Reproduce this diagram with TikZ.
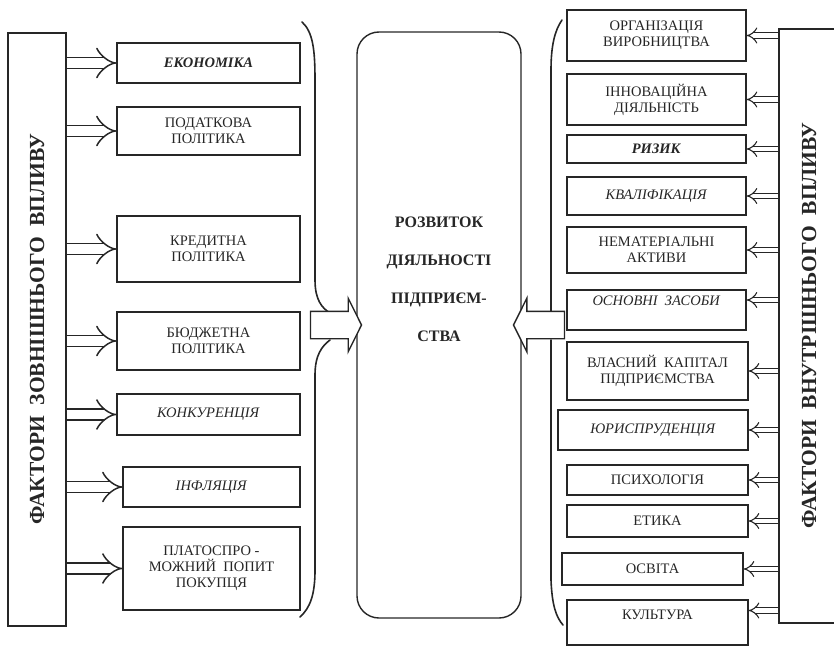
\documentclass[tikz,border=0pt]{standalone}
\usepackage{fontspec}
\setmainfont{Liberation Serif}
\usetikzlibrary{positioning,shapes.arrows,arrows.meta}

\begin{document}
\begin{tikzpicture}[
    x=1pt, y=-1pt,
    color=black!85,
    line width=1.4pt,
    node distance=80pt,
    factor/.style={rectangle, draw, minimum width=183pt, align=center, inner sep=2pt, font=\fontsize{14.5}{16}\selectfont},
    infactor/.style={factor, minimum width=179pt},
    sidebox/.style={rectangle, draw, rotate=90, minimum width=593pt, minimum height=58pt, font=\bfseries\fontsize{21.5}{24}\selectfont},
    core/.style={rectangle, draw, rounded corners=22pt, minimum width=164pt, minimum height=586pt},
    coretext/.style={align=center, font=\bfseries\fontsize{16}{38}\selectfont},
    bigarrow/.style={single arrow, draw, fill=white, inner xsep=0pt, inner ysep=13pt, minimum height=51pt, single arrow head extend=13pt, single arrow tip angle=127},
    outarrow/.style={double, double distance=9.5pt, line width=1.5pt, -{Implies}},
    inarrow/.style={double, double distance=4.5pt, line width=1.1pt, -{Implies}},
    braceline/.style={line width=1.6pt, line cap=round}
]
    \useasboundingbox (0,0) rectangle (834,647);

    % Side blocks
    \node [sidebox] (extf) at (37,329.5) {ФАКТОРИ\ \ ЗОВНІШНЬОГО\ \ ВПЛИВУ};
    \node [sidebox, minimum width=594pt, minimum height=60pt] (intf) at (809,326) {ФАКТОРИ\ \ ВНУТРІШНЬОГО\ \ ВПЛИВУ};

    % Core
    \node [core] (dev) at (439,325) {};
    \node [coretext] (devtext) at ([yshift=46pt]dev.center) {РОЗВИТОК\\ДІЯЛЬНОСТІ\\ПІДПРИЄМ-\\СТВА};

    % External factors
    \node [factor, minimum height=40pt] (econ) at (208.5,63) {\textbf{\textit{ЕКОНОМІКА}}};
    \node [factor, minimum height=48pt, below of=econ, yshift=12pt] (tax) {ПОДАТКОВА\\ПОЛІТИКА};
    \node [factor, minimum height=66pt, below of=tax, yshift=-38pt] (credit) {КРЕДИТНА\\ПОЛІТИКА};
    \node [factor, minimum height=58pt, below of=credit, yshift=-12pt] (budget) {БЮДЖЕТНА\\ПОЛІТИКА};
    \node [factor, minimum height=41pt, below of=budget, yshift=6.5pt] (compet) {\textit{КОНКУРЕНЦІЯ}};
    \node [factor, minimum width=177pt, minimum height=40pt, below of=compet, yshift=7.5pt, xshift=3pt] (infl) {\textit{ІНФЛЯЦІЯ}};
    \node [factor, minimum width=177pt, minimum height=83pt, below of=infl, yshift=-1.5pt] (demand) {ПЛАТОСПРО -\\МОЖНИЙ\ \ ПОПИТ\\ПОКУПЦЯ};

    % Internal factors
    \begin{scope}[node distance=55pt]
    \node [infactor, minimum height=51pt] (org) at (656.5,35.5) {ОРГАНІЗАЦІЯ\\ВИРОБНИЦТВА};
    \node [infactor, minimum height=51pt, below of=org, yshift=-9pt] (innov) {ІННОВАЦІЙНА\\ДІЯЛЬНІСТЬ};
    \node [infactor, minimum height=28pt, below of=innov, yshift=5.5pt] (risk) {\textbf{\textit{РИЗИК}}};
    \node [infactor, minimum height=38pt, below of=risk, yshift=8pt] (skill) {\textit{КВАЛІФІКАЦІЯ}};
    \node [infactor, minimum height=46pt, below of=skill, yshift=1pt] (intang) {НЕМАТЕРІАЛЬНІ\\АКТИВИ};
    \node [infactor, minimum height=40pt, text height=10pt, text depth=20pt, below of=intang, yshift=-5pt] (assets) {\textit{ОСНОВНІ\ \ ЗАСОБИ}};
    \node [infactor, minimum width=181pt, minimum height=58pt, below of=assets, yshift=-6pt, xshift=1pt] (equity) {ВЛАСНИЙ\ \ КАПІТАЛ\\ПІДПРИЄМСТВА};
    \node [infactor, minimum width=190pt, minimum height=40pt, below of=equity, yshift=-4pt, xshift=-4.5pt] (law) {\textit{ЮРИСПРУДЕНЦІЯ}};
    \node [infactor, minimum width=181pt, minimum height=30pt, below of=law, yshift=5pt, xshift=4.5pt] (psych) {ПСИХОЛОГІЯ};
    \node [infactor, minimum width=181pt, minimum height=32pt, below of=psych, yshift=14pt] (ethics) {ЕТИКА};
    \node [infactor, minimum width=181pt, minimum height=32pt, below of=ethics, yshift=7pt, xshift=-5pt] (educ) {ОСВІТА};
    \node [infactor, minimum width=181pt, minimum height=45pt, text height=10pt, text depth=16pt, below of=educ, yshift=1.5pt, xshift=5pt] (culture) {КУЛЬТУРА};
    \end{scope}

    % Braces
    \draw [braceline] (302,22) .. controls (313,32) and (315,50) .. (315,80) -- (315,280) .. controls (315,300) and (322,308) .. (330,313);
    \draw [braceline] (330,340) .. controls (322,346) and (315,355) .. (315,375) -- (315,570) .. controls (315,595) and (310,608) .. (300,617);
    \draw [braceline] (562,20) .. controls (555,30) and (551,45) .. (551,70) -- (551,312);
    \draw [braceline] (551,340) -- (551,580) .. controls (552,605) and (556,617) .. (563,625);

    % Into the core
    \node [bigarrow, anchor=tip, xshift=6pt] (pushL) at (dev.west) {};
    \node [bigarrow, shape border rotate=180, anchor=tip, xshift=-9pt] (pushR) at (dev.east) {};

    % External influence
    \draw [outarrow] (extf.south |- econ.west) -- (econ.west);
    \draw [outarrow] (extf.south |- tax.west) -- (tax.west);
    \draw [outarrow] (extf.south |- credit.west) -- (credit.west);
    \draw [outarrow] (extf.south |- budget.west) -- (budget.west);
    \draw [outarrow] (extf.south |- compet.west) -- (compet.west);
    \draw [outarrow] (extf.south |- infl.west) -- (infl.west);
    \draw [outarrow] (extf.south |- demand.west) -- (demand.west);

    % Internal influence
    \coordinate (assetsin) at ([yshift=10pt]assets.east);
    \coordinate (culturein) at ([yshift=12pt]culture.east);
    \draw [inarrow] (intf.north |- org.east) -- (org.east);
    \draw [inarrow] (intf.north |- innov.east) -- (innov.east);
    \draw [inarrow] (intf.north |- risk.east) -- (risk.east);
    \draw [inarrow] (intf.north |- skill.east) -- (skill.east);
    \draw [inarrow] (intf.north |- intang.east) -- (intang.east);
    \draw [inarrow] (intf.north |- assetsin) -- (assetsin);
    \draw [inarrow] (intf.north |- equity.east) -- (equity.east);
    \draw [inarrow] (intf.north |- law.east) -- (law.east);
    \draw [inarrow] (intf.north |- psych.east) -- (psych.east);
    \draw [inarrow] (intf.north |- ethics.east) -- (ethics.east);
    \draw [inarrow] (intf.north |- educ.east) -- (educ.east);
    \draw [inarrow] (intf.north |- culturein) -- (culturein);
\end{tikzpicture}
\end{document}
